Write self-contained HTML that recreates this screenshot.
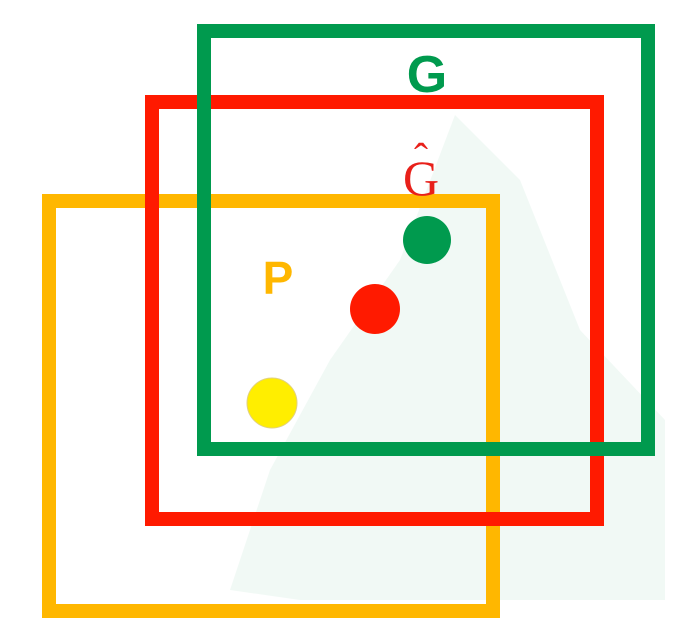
<!DOCTYPE html>
<html><head><meta charset="utf-8"><style>
html,body{margin:0;padding:0;background:#fff;width:686px;height:638px;overflow:hidden}
svg{display:block}
</style></head><body>
<svg width="686" height="638" viewBox="0 0 686 638">
  <polygon points="455,115 520,180 580,330 665,420 665,600 300,600 230,590 270,470 330,360 400,260" fill="#eef7f2" opacity="0.8"/>
  <rect x="49" y="201" width="444" height="410" fill="none" stroke="#ffb700" stroke-width="14"/>
  <rect x="152" y="102" width="445" height="417" fill="none" stroke="#ff1a00" stroke-width="14"/>
  <rect x="204" y="31" width="444" height="418" fill="none" stroke="#009a4e" stroke-width="14"/>
  <circle cx="427" cy="240" r="24" fill="#009a4e"/>
  <circle cx="375" cy="309" r="25" fill="#ff1a00"/>
  <circle cx="272" cy="403" r="25" fill="#ffee00" stroke="#e0d080" stroke-width="1"/>
  <text x="427" y="92" text-anchor="middle" font-family="Liberation Sans, sans-serif" font-weight="bold" font-size="52" fill="#009a4e">G</text>
  <text x="421" y="195" text-anchor="middle" font-family="Liberation Serif, serif" font-size="50" fill="#e8201a">G</text>
  <text x="421" y="172" text-anchor="middle" font-family="Liberation Serif, serif" font-size="42" fill="#e8201a">ˆ</text>
  <text x="278" y="294" text-anchor="middle" font-family="Liberation Sans, sans-serif" font-weight="bold" font-size="46" fill="#ffb700">P</text>
</svg>
</body></html>
